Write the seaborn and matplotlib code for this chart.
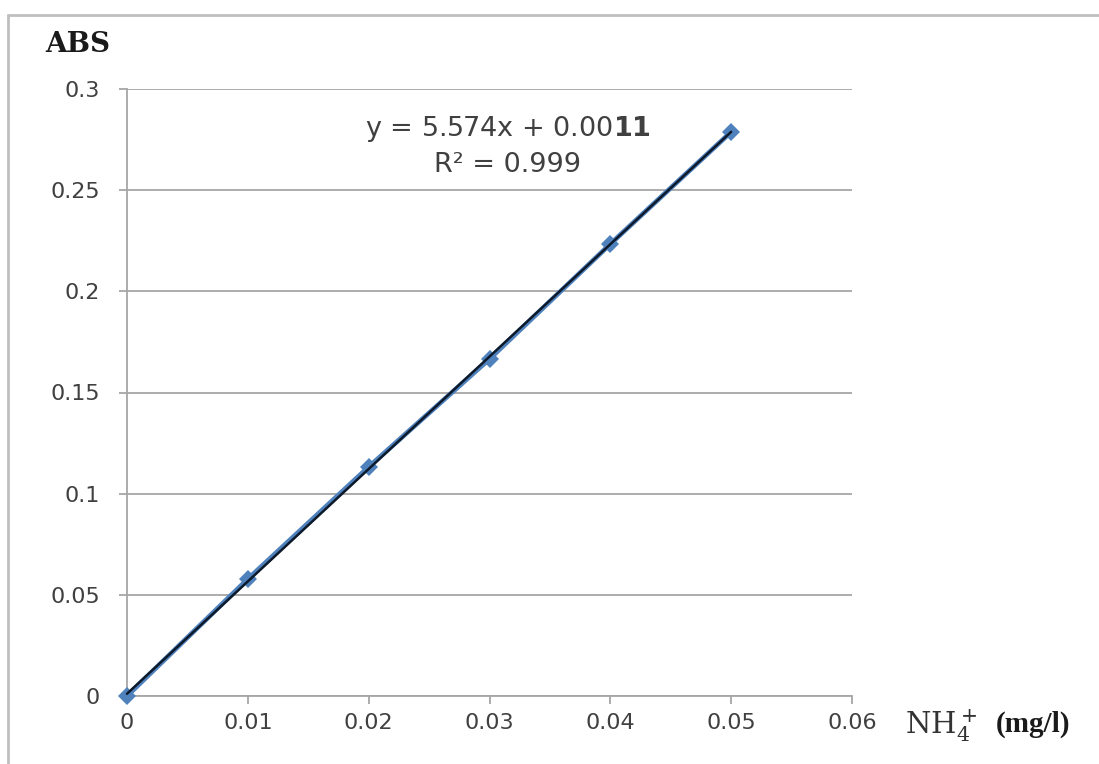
import matplotlib
matplotlib.use('Agg')
import matplotlib.pyplot as plt
import pandas as pd
import seaborn as sns
from matplotlib.lines import Line2D

# calibration data
conc = [0.0, 0.01, 0.02, 0.03, 0.04, 0.05]
absorbance = [0.0, 0.0578, 0.1132, 0.1666, 0.2234, 0.2788]
x_ticks = [0, 0.01, 0.02, 0.03, 0.04, 0.05, 0.06]
x_tick_labels = ['0', '0.01', '0.02', '0.03', '0.04', '0.05', '0.06']
y_ticks = [0, 0.05, 0.1, 0.15, 0.2, 0.25, 0.3]
y_tick_labels = ['0', '0.05', '0.1', '0.15', '0.2', '0.25', '0.3']

df = pd.DataFrame({'conc': conc, 'abs': absorbance})

sns.set_theme(style='white')
plt.rcParams['font.family'] = ['DejaVu Sans']
plt.rcParams['mathtext.fontset'] = 'custom'
plt.rcParams['mathtext.rm'] = 'DejaVu Sans'
plt.rcParams['mathtext.bf'] = 'DejaVu Sans:bold'

fig = plt.figure(figsize=(10.99, 7.64), dpi=100)
ax = fig.add_axes([127 / 1099, 1 - 696 / 764, (852 - 127) / 1099, (696 - 89) / 764])

grey = '#404040'
grid_col = '#a6a6a6'

# data series: blue line with diamond markers
sns.lineplot(data=df, x='conc', y='abs', ax=ax, color='#4f81bd', linewidth=3.5,
             marker='D', markersize=9, markeredgewidth=0, zorder=3)
# linear trend line
sns.regplot(data=df, x='conc', y='abs', ax=ax, ci=None, scatter=False,
            line_kws={'color': '#0d1a2b', 'linewidth': 1.8, 'zorder': 4})
for ln in ax.lines:
    ln.set_clip_on(False)  # let the origin marker sit over the axes

ax.set_xlim(0, 0.06)
ax.set_ylim(0, 0.3)
ax.set_xticks(x_ticks)
ax.set_xticklabels(x_tick_labels)
ax.set_yticks(y_ticks)
ax.set_yticklabels(y_tick_labels)
ax.set_xlabel('')
ax.set_ylabel('')

ax.yaxis.grid(True, color=grid_col, linewidth=1.3)
ax.xaxis.grid(False)
ax.set_axisbelow(True)
for side in ['top', 'right']:
    ax.spines[side].set_visible(False)
for side in ['left', 'bottom']:
    ax.spines[side].set_color(grid_col)
    ax.spines[side].set_linewidth(1.3)
ax.tick_params(axis='both', which='major', length=6, width=1.3, color=grid_col,
               labelsize=16, labelcolor=grey, direction='out')
ax.tick_params(axis='x', pad=6)
ax.tick_params(axis='y', pad=13.5)
ax.tick_params(left=True, bottom=True)

# trendline equation
ax.text(0.0315, 0.2802, r'y = 5.574x + 0.00$\mathbf{11}$', ha='center', va='center',
        fontsize=19.5, color=grey)
ax.text(0.0315, 0.2624, 'R² = 0.999', ha='center', va='center',
        fontsize=19.5, color=grey)

# axis titles
fig.text(45 / 1099, 1 - 44 / 764, 'ABS', family='DejaVu Serif', fontweight='bold',
         fontsize=20, color='#1a1a1a', ha='left', va='center')
fig.text(905 / 1099, 1 - 726 / 764, r'$\mathrm{NH}_4^+$', math_fontfamily='dejavuserif',
         fontsize=21, color='#333333', ha='left', va='center')
fig.text(996 / 1099, 1 - 724 / 764, '(mg/l)', family='Liberation Serif', fontweight='bold',
         fontsize=21, color='#1a1a1a', ha='left', va='center')

# outer chart-area border
fig.add_artist(Line2D([8 / 1099, 1.0], [1 - 15 / 764, 1 - 15 / 764], color='#bfbfbf',
                      linewidth=2, transform=fig.transFigure))
fig.add_artist(Line2D([8 / 1099, 8 / 1099], [1 - 15 / 764, 0.0], color='#bfbfbf',
                      linewidth=2, transform=fig.transFigure))

fig.savefig('out.png', dpi=100)
